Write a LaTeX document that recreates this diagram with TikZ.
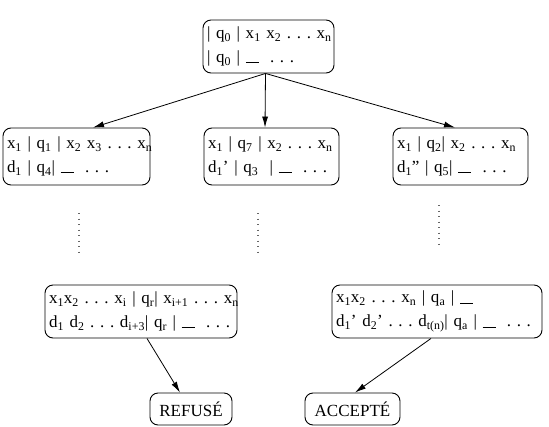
\documentclass[tikz,border=0pt]{standalone}
\usepackage{fontspec}
\setmainfont{Liberation Serif}
\usetikzlibrary{arrows.meta,calc}
\newcommand\ix[1]{\textsubscript{#1}}
\newcommand\blk{\rule[-0.6pt]{13pt}{0.9pt}}
\newcommand\rw[1]{\mbox{#1}}
\begin{document}
\begin{tikzpicture}[x=1pt,y=-1pt,
  cfg/.style={draw,line width=0.9pt,rounded corners=8pt,inner xsep=4pt,inner ysep=0pt,
    align=left,font=\fontsize{17}{24}\selectfont\frenchspacing},
  fin/.style={draw,line width=0.9pt,rounded corners=8pt,inner xsep=4pt,inner ysep=0pt,
    font=\fontsize{17}{22}\selectfont},
  arr/.style={line width=0.8pt,-{Latex[length=11pt,width=6pt]}},
  dots/.style={line width=1.1pt,dash pattern=on 1.1pt off 4.4pt,black!60}]
\useasboundingbox (0,0) rectangle (549,426);
\node[cfg,text width=123pt,minimum height=53pt] (top) at (268.5,46.5)
  {\rw{| q\ix{0} | x\ix{1} x\ix{2} . . . x\ix{n}}\\\rw{| q\ix{0} | \blk\ \ . . .}};
\node[cfg,text width=139pt,minimum height=57pt] (L) at (76.5,156.5)
  {\rw{x\ix{1} | q\ix{1} | x\ix{2} x\ix{3} . . . x\ix{n}}\\\rw{d\ix{1} | q\ix{4}| \blk\ \ . . .}};
\node[cfg,text width=127pt,minimum height=57pt] (M) at (271.5,156.5)
  {\rw{x\ix{1} | q\ix{7} | x\ix{2} . . . x\ix{n}}\\\rw{d\ix{1}' | q\ix{3}\ \ | \blk\ \ . . .}};
\node[cfg,text width=127pt,minimum height=57pt] (R) at (460.5,156.5)
  {\rw{x\ix{1} | q\ix{2}| x\ix{2} . . . x\ix{n}}\\\rw{d\ix{1}'' | q\ix{5}| \blk\ \ . . .}};
\node[cfg,text width=184pt,minimum height=53pt] (BL) at (141,311.5)
  {\rw{x\ix{1}x\ix{2} . . . x\ix{i} | q\ix{r}| x\ix{i+1} . . . x\ix{n}}\\\rw{d\ix{1} d\ix{2} . . . d\ix{i+3}| q\ix{r} | \blk\ \ . . .}};
\node[cfg,text width=202pt,minimum height=53pt] (BR) at (437,311.5)
  {\rw{x\ix{1}x\ix{2} . . . x\ix{n} | q\ix{a} | \blk}\\\rw{d\ix{1}' d\ix{2}' . . . d\ix{t(n)}| q\ix{a} | \blk\ \ . . .}};
\node[fin,minimum width=82pt,minimum height=32pt] (ref) at (191,409) {REFUSÉ};
\node[fin,minimum width=95pt,minimum height=32pt] (acc) at (352.5,409) {ACCEPTÉ};
\draw[arr] ([xshift=-3pt]top.south) -- ([xshift=16.5pt]L.north);
\draw[arr] ([xshift=-3pt]top.south) -- ([xshift=-6.5pt]M.north);
\draw[arr] ([xshift=-3pt]top.south) -- ([xshift=-5.5pt]R.north);
\draw[arr] ([xshift=6pt]BL.south) -- ([xshift=-11pt]ref.north);
\draw[arr] ([xshift=-6pt]BR.south) -- ([xshift=2.5pt]acc.north);
\coordinate (d1a) at (79,213); \coordinate (d1b) at (79,253);
\coordinate (d2a) at (258,213); \coordinate (d2b) at (258,253);
\coordinate (d3a) at (439,205); \coordinate (d3b) at (439,245);
\draw[dots] (d1a) -- (d1b);
\draw[dots] (d2a) -- (d2b);
\draw[dots] (d3a) -- (d3b);
\end{tikzpicture}
\end{document}
